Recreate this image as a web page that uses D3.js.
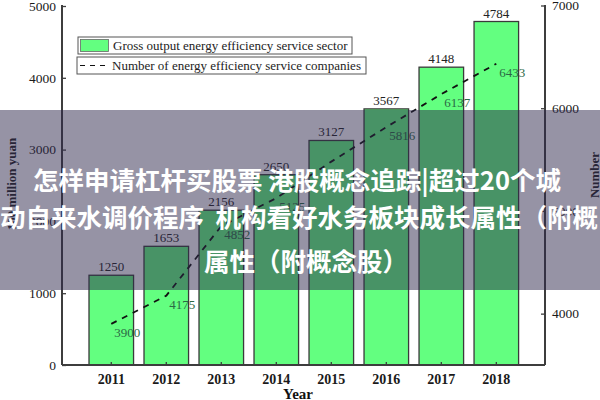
<!DOCTYPE html>
<html>
<head>
<meta charset="utf-8">
<script src="https://cdn.jsdelivr.net/npm/d3@7/dist/d3.min.js"></script>
<style>
  html, body { margin: 0; padding: 0; background: #fff; }
  svg { display: block; }
</style>
</head>
<body>
<svg id="chart" width="600" height="400"></svg>
<script>
const years = ["2011", "2012", "2013", "2014", "2015", "2016", "2017", "2018"];
const grossOutput = [1250, 1653, 2156, 2650, 3127, 3567, 4148, 4784];
const companies = [3900, 4175, 4852, 5125, 5480, 5816, 6137, 6433];
const showCompanyLabel = [true, true, true, true, false, true, true, true];
const leftTicks = [0, 1000, 2000, 3000, 4000, 5000];
const rightTicks = [4000, 5000, 6000, 7000];
const legendLabels = ["Gross output energy efficiency service sector", "Number of energy efficiency service companies"];
const overlayLines = ["怎样申请杠杆买股票 港股概念追踪|超过20个城", "动自来水调价程序  机构看好水务板块成长属性（附概", "属性（附概念股）"];

const svg = d3.select("#chart");
const serif = "'Liberation Serif', 'Times New Roman', serif";

const x = d3.scaleBand().domain(years).range([89, 518.6]).paddingInner(0.19).paddingOuter(0);
const yL = d3.scaleLinear().domain([0, 5000]).range([365, 6]);
const yR = d3.scaleLinear().domain([3500, 7000]).range([365, 5.5]);

// Bars
svg.append("g").selectAll("rect").data(years).join("rect")
  .attr("x", d => x(d))
  .attr("y", (d, i) => yL(grossOutput[i]))
  .attr("width", x.bandwidth())
  .attr("height", (d, i) => yL(0) - yL(grossOutput[i]))
  .attr("fill", "#63ff80")
  .attr("stroke", "#3a3a3a")
  .attr("stroke-width", 1.3);

// Bar labels
svg.append("g").selectAll("text").data(years).join("text")
  .attr("x", d => x(d) + x.bandwidth() / 2)
  .attr("y", (d, i) => yL(grossOutput[i]) - 4)
  .attr("text-anchor", "middle")
  .attr("font-family", serif)
  .attr("font-size", 13)
  .attr("fill", "#222")
  .text((d, i) => grossOutput[i]);

// Dashed line
const line = d3.line()
  .x((d, i) => x(years[i]) + x.bandwidth() / 2)
  .y(d => yR(d));
svg.append("path")
  .datum(companies)
  .attr("d", line)
  .attr("fill", "none")
  .attr("stroke", "#111")
  .attr("stroke-width", 1.8)
  .attr("stroke-dasharray", "6,6");

// Line labels
svg.append("g").selectAll("text").data(companies.filter((d, i) => showCompanyLabel[i])).join("text")
  .attr("x", d => x(years[companies.indexOf(d)]) + x.bandwidth() / 2 + 16)
  .attr("y", d => yR(d) + 13)
  .attr("text-anchor", "middle")
  .attr("font-family", serif)
  .attr("font-size", 13)
  .attr("fill", "#2b6a45")
  .text(d => d);

// Axes
const axisColor = "#3d3d3d";
const gL = svg.append("g").attr("transform", "translate(62,0)")
  .call(d3.axisLeft(yL).tickValues(leftTicks).tickSize(-4).tickPadding(6).tickFormat(d3.format("d")));
const gR = svg.append("g").attr("transform", "translate(545,0)")
  .call(d3.axisRight(yR).tickValues(rightTicks).tickSize(-4).tickPadding(7).tickFormat(d3.format("d")));
const gB = svg.append("g").attr("transform", "translate(0,365)")
  .call(d3.axisBottom(x).tickSize(-3).tickPadding(9));

[gL, gR, gB].forEach(g => {
  g.select(".domain").attr("stroke", axisColor).attr("stroke-width", 2);
  g.selectAll(".tick line").attr("stroke", axisColor).attr("stroke-width", 1.3);
  g.selectAll(".tick text").attr("font-family", serif).attr("font-size", 13.5).attr("fill", "#1a1a1a");
});
gB.select(".domain").attr("d", "M62,0H545");
gL.select(".domain").attr("d", "M0,365V5");
gR.select(".domain").attr("d", "M0,365V5");
gB.selectAll(".tick text").attr("font-weight", "bold").attr("font-size", 14);

// Axis titles
svg.append("text")
  .attr("transform", "translate(16,184) rotate(-90)")
  .attr("text-anchor", "middle")
  .attr("font-family", serif).attr("font-weight", "bold").attr("font-size", 13)
  .attr("fill", "#222")
  .text("100 million yuan");
svg.append("text")
  .attr("transform", "translate(599,175) rotate(-90)")
  .attr("text-anchor", "middle")
  .attr("font-family", serif).attr("font-weight", "bold").attr("font-size", 13)
  .attr("fill", "#222")
  .text("Number");
svg.append("text")
  .attr("x", 298).attr("y", 399)
  .attr("text-anchor", "middle")
  .attr("font-family", serif).attr("font-weight", "bold").attr("font-size", 15)
  .attr("fill", "#111")
  .text("Year");

// Legend
const lg = svg.append("g");
lg.append("rect").attr("x", 78).attr("y", 37).attr("width", 274).attr("height", 17)
  .attr("fill", "#fff").attr("stroke", "#555").attr("stroke-width", 1);
lg.append("rect").attr("x", 80.5).attr("y", 39.5).attr("width", 28).attr("height", 12)
  .attr("fill", "#63ff80").attr("stroke", "#666").attr("stroke-width", 0.8);
lg.append("text").attr("x", 113).attr("y", 50)
  .attr("font-family", serif).attr("font-size", 13).attr("fill", "#222")
  .text(legendLabels[0]);
lg.append("rect").attr("x", 77).attr("y", 57).attr("width", 289).attr("height", 17)
  .attr("fill", "#fff").attr("stroke", "#555").attr("stroke-width", 1);
lg.append("line").attr("x1", 80).attr("x2", 110).attr("y1", 65.5).attr("y2", 65.5)
  .attr("stroke", "#111").attr("stroke-width", 1.2).attr("stroke-dasharray", "5,5");
lg.append("text").attr("x", 112).attr("y", 70)
  .attr("font-family", serif).attr("font-size", 13).attr("fill", "#222")
  .text(legendLabels[1]);

// Overlay banner
svg.append("rect").attr("x", 0).attr("y", 110).attr("width", 600).attr("height", 180)
  .attr("fill", "rgb(45,40,75)").attr("fill-opacity", 0.5);
const ov = svg.append("g")
  .attr("font-family", "'Noto Sans CJK SC', sans-serif")
  .attr("font-weight", "bold").attr("font-size", 25.5).attr("fill", "#fff");
ov.append("text").attr("x", 33).attr("y", 190).text(overlayLines[0]);
ov.append("text").attr("x", 0).attr("y", 227).attr("xml:space", "preserve").style("white-space", "pre").text(overlayLines[1]);
ov.append("text").attr("x", 204).attr("y", 271).text(overlayLines[2]);
</script>
</body>
</html>
